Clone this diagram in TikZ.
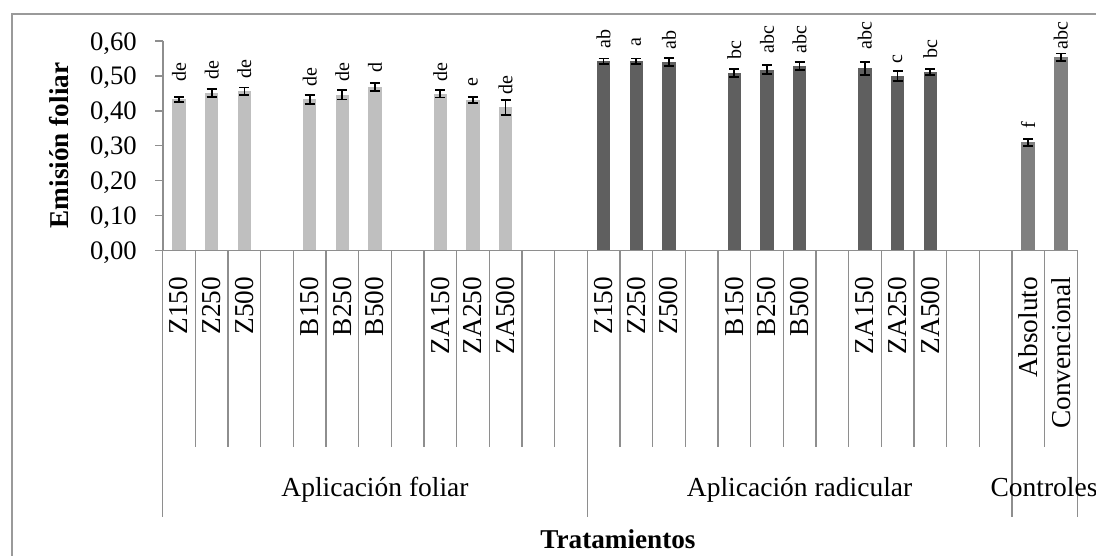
\documentclass[tikz,border=0pt]{standalone}
\usepackage{fontspec}
\setmainfont{Liberation Serif}
\definecolor{axgray}{HTML}{8E8E8E}
\definecolor{framegray}{HTML}{9A9A9A}
\definecolor{foliarc}{HTML}{BFBFBF}
\definecolor{radicc}{HTML}{5F5F5F}
\definecolor{controlc}{HTML}{808080}
\begin{document}
\begin{tikzpicture}[x=1pt,y=-1pt,
  axisline/.style={draw=axgray,line width=1.3pt},
  errbar/.style={draw=black,line width=1.7pt},
  datalabel/.style={rotate=90,anchor=west,inner sep=0pt,font=\fontsize{20}{20}\selectfont},
  catlabel/.style={rotate=90,anchor=east,inner sep=0pt,font=\fontsize{27.3}{27.3}\selectfont},
  ticklabel/.style={anchor=base east,inner sep=0pt,font=\fontsize{26.7}{26.7}\selectfont},
  grouplabel/.style={anchor=base,inner sep=0pt,font=\fontsize{27.5}{27.5}\selectfont},
  titlelabel/.style={anchor=base,inner sep=0pt,font=\fontsize{27.2}{27.2}\selectfont\bfseries}]
\useasboundingbox (0,0) rectangle (1096,556);
% outer frame
\draw[draw=framegray,line width=1.3pt] (12,560) -- (12,14) -- (1100,14);
% bars, error bars, data labels
\foreach \i/\ty/\eh/\lab/\lb/\col in {
  1/99.2/2.5/de/81.7/foliarc, 2/93.3/4/de/80/foliarc, 3/91.2/3.8/de/78.3/foliarc,
  5/99.5/4.5/de/86.7/foliarc, 6/94.7/4.7/de/81.7/foliarc, 7/86.7/4/d/73/foliarc,
  9/93.7/3.7/de/81.7/foliarc, 10/100.3/3/e/86.7/foliarc, 11/107.5/7.5/de/95/foliarc,
  14/61.2/2.8/ab/48.3/radicc, 15/61.2/2.8/a/46.7/radicc, 16/62/3.7/ab/49.3/radicc,
  18/73/3.7/bc/60/radicc, 19/69.8/4.5/abc/53.3/radicc, 20/66/4/abc/53.3/radicc,
  22/68.5/6.5/abc/50/radicc, 23/76/5.3/c/63.3/radicc, 24/72/3/bc/58.3/radicc,
  27/142.5/3.2/f/128.3/controlc, 28/57.2/3.8/abc/50/controlc} {
  \pgfmathsetmacro\cx{162.7+(\i-0.5)*32.66}
  \fill[\col] (\cx-6.7,\ty) rectangle (\cx+6.7,250.5);
  \draw[errbar] (\cx,\ty-\eh) -- (\cx,\ty+\eh)
     (\cx-5,\ty-\eh) -- (\cx+5,\ty-\eh) (\cx-5,\ty+\eh) -- (\cx+5,\ty+\eh);
  \node[datalabel] (lab\i) at (\cx,\lb) {\lab};
}
% y axis
\draw[axisline] (163,41) -- (163,250.5);
\foreach \v/\s in {0/{0,00}, 1/{0,10}, 2/{0,20}, 3/{0,30}, 4/{0,40}, 5/{0,50}, 6/{0,60}} {
  \pgfmathsetmacro\yy{250.5-\v*34.9}
  \draw[axisline] (155,\yy) -- (163,\yy);
  \node[ticklabel] (yt\v) at (137,\yy+9) {\s};
}
% category axis
\draw[axisline] (162.7,250.5) -- (1077.2,250.5);
\foreach \j in {1,...,12,14,15,...,25,27} {
  \pgfmathsetmacro\bx{162.7+\j*32.66}
  \draw[axisline] (\bx,250.5) -- (\bx,446.7);
}
\foreach \j in {0,13,26,28} {
  \pgfmathsetmacro\bx{162.7+\j*32.66}
  \draw[axisline] (\bx,250.5) -- (\bx,516.7);
}
% category labels
\foreach \i/\nm in {1/Z150,2/Z250,3/Z500,5/B150,6/B250,7/B500,9/ZA150,10/ZA250,11/ZA500,
  14/Z150,15/Z250,16/Z500,18/B150,19/B250,20/B500,22/ZA150,23/ZA250,24/ZA500,
  27/Absoluto,28/Convencional} {
  \pgfmathsetmacro\cx{162.7+(\i-0.5)*32.66}
  \node[catlabel] (cat\i) at (\cx,276.7) {\nm};
}
% group labels
\node[grouplabel] (gfol) at (375,496) {Aplicación foliar};
\node[grouplabel] (grad) at (799.6,496) {Aplicación radicular};
\node[grouplabel] (gctl) at (1044,496) {Controles};
% axis titles
\node[titlelabel] (xtitle) at (618,548) {Tratamientos};
\node[titlelabel,rotate=90] (ytitle) at (68,145.5) {Emisión foliar};
\end{tikzpicture}
\end{document}
